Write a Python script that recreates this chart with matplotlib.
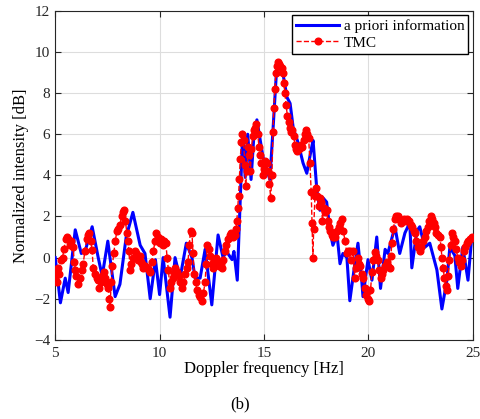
import numpy as np
import matplotlib
matplotlib.use("Agg")
import matplotlib.pyplot as plt

plt.rcParams["font.family"] = ["Liberation Serif", "DejaVu Serif"]

# a priori information (blue line)
f_priori = [5.00, 5.25, 5.48, 5.62, 5.96, 6.25, 6.43, 6.77, 7.06, 7.25, 7.52, 7.87, 8.10, 8.40,
            8.72, 9.07, 9.30, 9.55, 9.80, 10.00, 10.17, 10.50, 10.74, 10.98, 11.28, 11.55, 11.70,
            11.94, 12.18, 12.50, 12.80, 13.04, 13.20, 13.47, 13.56, 13.72, 13.98, 14.10, 14.22,
            14.38, 14.52, 14.66, 14.95, 15.28, 15.43, 15.60, 15.72, 15.90, 16.10, 16.25, 16.40,
            16.63, 16.87, 17.05, 17.25, 17.35, 17.53, 17.68, 17.83, 18.00, 18.16, 18.30, 18.50,
            18.64, 18.78, 18.97, 19.11, 19.35, 19.50, 19.68, 19.74, 19.98, 20.17, 20.40, 20.58,
            20.80, 20.93, 21.27, 21.50, 21.75, 21.98, 22.08, 22.32, 22.46, 22.70, 22.94, 23.28,
            23.52, 23.76, 23.90, 24.14, 24.28, 24.52, 24.77, 24.95]
y_priori = [0.0, -2.2, -1.0, -1.7, 1.35, 0.2, 0.3, 1.5, 0.0, -0.9, 0.8, -1.9, -1.3, 1.0,
            2.2, 0.6, 0.2, -2.0, -0.1, -1.8, 0.0, -2.9, 0.0, -1.0, 0.7, 0.0, -1.0,
            -1.0, 0.4, -2.3, 1.1, 0.0, 0.3, -0.1, 0.3, -1.1, 6.1, 3.9, 6.0,
            3.8, 6.0, 6.7, 4.9, 3.8, 6.2, 9.1, 9.4, 9.0, 7.8, 7.5, 6.3,
            5.6, 4.6, 4.1, 5.2, 5.7, 3.3, 2.3, 2.9, 2.7, 1.3, 0.6, 1.1,
            -0.3, 0.2, 0.0, -2.1, -0.3, 0.7, -1.1, -1.9, -0.1, -1.1, 1.0, -1.5,
            0.4, 0.2, 1.5, 0.2, 1.2, 1.7, -0.5, 1.3, 1.5, 0.5, 0.7, -0.6,
            -2.5, -1.1, 0.5, 0.1, -1.5, 0.5, -1.1, 1.0]

# TMC (red dashed with dots)
f_tmc = [5.00, 5.05, 5.10, 5.15, 5.20, 5.28, 5.35, 5.42, 5.50, 5.55, 5.62, 5.70, 5.78, 5.85,
         5.92, 5.96, 6.02, 6.10, 6.18, 6.26, 6.34, 6.42, 6.50, 6.56, 6.62, 6.70, 6.77, 6.82,
         6.90, 6.98, 7.06, 7.12, 7.18, 7.25, 7.32, 7.40, 7.48, 7.55, 7.60, 7.63, 7.68, 7.74,
         7.80, 7.88, 7.95, 8.02, 8.10, 8.18, 8.25, 8.30, 8.36, 8.43, 8.48, 8.53, 8.59, 8.65,
         8.73, 8.80, 8.88, 8.96, 9.04, 9.10, 9.16, 9.22, 9.30, 9.40, 9.48, 9.55, 9.62, 9.70,
         9.78, 9.85, 9.92, 10.00, 10.08, 10.15, 10.22, 10.30, 10.36, 10.42, 10.50, 10.56,
         10.62, 10.68, 10.75, 10.84, 10.92, 11.00, 11.07, 11.14, 11.22, 11.30, 11.36, 11.42,
         11.48, 11.55, 11.60, 11.66, 11.72, 11.80, 11.88, 11.94, 12.03, 12.10, 12.18, 12.23,
         12.28, 12.35, 12.42, 12.50, 12.56, 12.62, 12.70, 12.78, 12.86, 12.94, 13.00, 13.06,
         13.13, 13.20, 13.28, 13.37, 13.44, 13.52, 13.60, 13.66, 13.70, 13.74, 13.78, 13.82,
         13.86, 13.92, 13.97, 14.02, 14.08, 14.12, 14.18, 14.24, 14.30, 14.35, 14.40, 14.45,
         14.52, 14.58, 14.64, 14.70, 14.76, 14.82, 14.88, 14.94, 15.00, 15.07, 15.14, 15.20,
         15.26, 15.32, 15.38, 15.43, 15.47, 15.52, 15.57, 15.62, 15.67, 15.72, 15.78, 15.84,
         15.90, 15.95, 16.00, 16.06, 16.12, 16.18, 16.24, 16.30, 16.36, 16.42, 16.48, 16.54,
         16.60, 16.66, 16.72, 16.78, 16.84, 16.90, 16.96, 17.02, 17.08, 17.14, 17.20, 17.26,
         17.30, 17.34, 17.38, 17.44, 17.50, 17.56, 17.62, 17.68, 17.74, 17.80, 17.86, 17.92,
         18.00, 18.06, 18.12, 18.18, 18.24, 18.30, 18.36, 18.42, 18.50, 18.58, 18.66, 18.73,
         18.80, 18.88, 18.97, 19.04, 19.10, 19.18, 19.26, 19.35, 19.42, 19.48, 19.55, 19.62,
         19.70, 19.76, 19.83, 19.90, 19.98, 20.04, 20.10, 20.17, 20.24, 20.30, 20.38, 20.45,
         20.52, 20.58, 20.66, 20.72, 20.80, 20.88, 20.96, 21.03, 21.08, 21.12, 21.20, 21.27,
         21.34, 21.40, 21.48, 21.56, 21.62, 21.70, 21.78, 21.86, 21.94, 22.02, 22.08, 22.16,
         22.23, 22.30, 22.37, 22.46, 22.54, 22.62, 22.70, 22.78, 22.85, 22.92, 23.00, 23.06,
         23.12, 23.18, 23.26, 23.34, 23.42, 23.48, 23.52, 23.58, 23.64, 23.70, 23.76, 23.82,
         23.88, 23.94, 24.00, 24.07, 24.14, 24.20, 24.28, 24.36, 24.44, 24.50, 24.56, 24.62,
         24.70, 24.78, 24.86, 24.95]
y_tmc = [-1.0, -0.6, -1.2, -0.5, -0.8, -0.1, 0.0, 0.4, 0.9, 1.0, 0.9, 0.6, 0.8, 0.5,
         -0.2, -0.6, -0.9, -1.3, -1.0, -0.6, -0.3, 0.3, 0.9, 1.1, 1.2, 0.8, 0.35, -0.5,
         -0.8, -1.0, -1.1, -1.5, -1.2, -0.9, -0.7, -1.0, -1.3, -1.5, -2.0, -2.4, -1.2, -0.4,
         0.2, 0.8, 1.3, 1.4, 1.6, 2.0, 2.2, 2.3, 1.8, 1.2, 0.8, 0.3, -0.6, -0.3,
         0.0, 0.3, 0.2, -0.1, 0.1, -0.2, -0.3, -0.5, -0.4, -0.5, -0.6, -0.7, -0.2, 0.3,
         0.8, 1.2, 1.0, 0.7, 0.9, 0.6, 0.8, 0.7, 0.0, -0.6, -1.5, -1.2,
         -1.0, -0.8, -0.5, -0.7, -0.9, -1.2, -1.5, -1.2, -0.8, -0.5, -0.2, 0.6,
         1.3, 1.2, 0.2, -0.8, -1.2, -1.6, -1.8, -1.9, -2.1, -1.7, -1.2, -0.3,
         0.6, 0.4, 0.1, -0.3, -0.5, -0.2, 0.0, -0.2, -0.4, -0.3, -0.5, -0.1,
         0.3, 0.6, 0.9, 1.1, 1.2, 1.0, 1.1, 1.4, 1.8, 2.4, 3.0, 3.8,
         4.8, 5.6, 6.0, 5.7, 4.5, 3.5, 4.2, 5.4, 5.0, 4.2, 5.3, 5.9,
         6.2, 6.3, 6.5, 6.0, 5.4, 5.0, 4.6, 4.0, 4.3, 4.7, 4.6, 4.2,
         3.6, 2.9, 4.0, 6.1, 7.3, 8.2, 9.0, 9.3, 9.5, 9.4, 9.3, 9.2,
         9.0, 8.5, 8.0, 7.4, 6.9, 6.6, 6.3, 6.1, 6.2, 5.9, 5.5, 5.3,
         5.2, 5.3, 5.4, 5.5, 5.4, 5.7, 6.0, 6.2, 6.0, 5.8, 4.6, 3.2,
         1.7, 0.0, 1.4, 3.0, 3.4, 3.0, 2.5, 2.9, 2.7, 1.8, 2.4, 2.2,
         2.3, 1.8, 1.5, 1.3, 1.1, 1.0, 1.2, 1.0, 1.3, 1.5, 1.7, 1.9,
         1.3, 0.8, 0.2, 0.3, 0.3, -0.1, 0.3, -1.0, -0.5, 0.0, -0.3, -0.4,
         -0.8, -1.0, -1.5, -1.8, -2.0, -2.1, -1.6, -0.7, -0.1, 0.25, 0.1, -0.1,
         -0.6, -1.0, -0.8, -0.6, -0.4, -0.2, -0.4, -0.5, 0.1, 0.7, 1.4, 1.9,
         2.0, 2.0, 1.9, 1.7, 1.8, 1.9, 1.8, 1.9, 1.8, 1.6, 1.5, 1.3,
         1.2, 0.8, 0.5, 0.3, 0.5, 0.8, 1.0, 1.3, 1.5, 1.8, 2.0, 1.9,
         1.7, 1.5, 1.2, 1.1, 1.0, 0.5, 0.0, -0.5, -1.0, -1.4, -1.6, -0.9,
         -0.1, 0.6, 1.2, 1.0, 0.8, 0.4, 0.0, -0.2, -0.4, -0.1, 0.3, 0.5,
         0.7, 0.8, 0.9, 1.0]

fig = plt.figure(figsize=(4.8, 4.19), dpi=100)
ax = fig.add_axes([0.115, 0.189, 0.87, 0.785])

ax.plot(f_priori, y_priori, color="#0000ff", linewidth=2.2, label="a priori information", zorder=3)
ax.plot(f_tmc, y_tmc, color="#ff0000", linestyle="--", linewidth=1.0, marker="o",
        markersize=4.8, label="TMC", zorder=4)

ax.set_xlim(5, 25)
ax.set_ylim(-4, 12)
ax.set_xticks([5, 10, 15, 20, 25])
ax.set_yticks(np.arange(-4, 13, 2))
ax.grid(True, color="#dddddd", linewidth=0.8)
ax.set_axisbelow(True)
ax.tick_params(direction="in", top=True, right=True, labelsize=11, colors="#262626", length=4)
ax.tick_params(axis="x", pad=5)
for s in ax.spines.values():
    s.set_color("#262626")
    s.set_linewidth(0.8)

ax.set_xlabel("Doppler frequency [Hz]", fontsize=12, labelpad=1)
ax.set_ylabel("Normalized intensity [dB]", fontsize=12, labelpad=4)

leg = ax.legend(loc="upper right", fontsize=11, fancybox=False, framealpha=1,
                edgecolor="black", borderpad=0.25, handlelength=2.8, handletextpad=0.3,
                labelspacing=0.2, borderaxespad=0.3)
leg.get_frame().set_linewidth(1.0)

fig.text(0.5, 0.025, "(b)", ha="center", fontsize=12)

fig.savefig("out.png", dpi=100)
